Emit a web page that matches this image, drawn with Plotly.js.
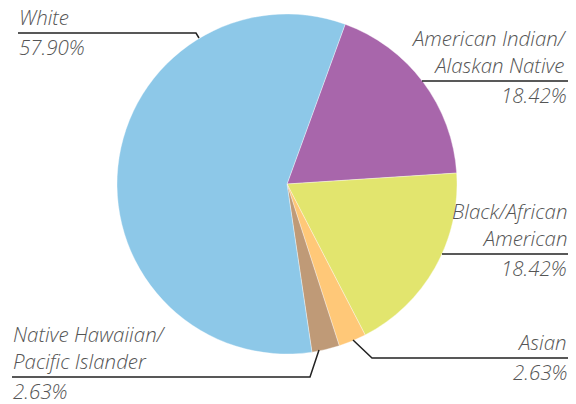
<!DOCTYPE html>
<html>
<head>
<meta charset="utf-8">
<script src="https://cdn.plot.ly/plotly-3.0.1.min.js"></script>
<style>html,body{margin:0;padding:0;background:#fff;}#chart{width:576px;height:404px;}</style>
</head>
<body>
<div id="chart"></div>
<script>
// Data
const categories = ["American Indian/<br>Alaskan Native", "Black/African<br>American", "Asian", "Native Hawaiian/<br>Pacific Islander", "White"];
const percents = [18.42, 18.42, 2.63, 2.63, 57.90];
const colors = ["#A866AB", "#E2E56E", "#FFC878", "#BF9A77", "#8DC8E8"];

// Label layout (pixel positions of leader lines and text anchors)
const W = 576, H = 404;
const labelLayout = [
  {pts: [[422, 81], [568, 81]], tx: 568, align: "right"},
  {pts: [[442, 254], [568, 254]], tx: 568, align: "right"},
  {pts: [[353, 340], [372, 358], [568, 358]], tx: 568, align: "right"},
  {pts: [[319, 350], [310, 377], [12, 377]], tx: 12, align: "left"},
  {pts: [[199, 38], [196, 33], [18, 33]], tx: 18, align: "left"}
];

const px = x => x / W;
const py = y => 1 - y / H;
const font = {family: "'Open Sans', Lato, 'Liberation Sans', sans-serif", size: 20.5, color: "#555555", style: "italic", weight: 300};

const shapes = [];
const annotations = [];
labelLayout.forEach((L, i) => {
  let d = "";
  L.pts.forEach((p, j) => { d += (j ? " L" : "M") + px(p[0]) + "," + py(p[1]); });
  shapes.push({type: "path", xref: "paper", yref: "paper", path: d, line: {color: "#222", width: 1.5}});
  const ly = L.pts[L.pts.length - 1][1];
  const anchor = L.align === "right" ? "right" : "left";
  annotations.push({xref: "paper", yref: "paper", x: px(L.tx), y: py(ly - 1), xanchor: anchor, yanchor: "bottom",
    text: categories[i], showarrow: false, align: L.align, font: font, borderpad: 0});
  annotations.push({xref: "paper", yref: "paper", x: px(L.tx), y: py(ly + 14), xanchor: anchor, yanchor: "middle",
    text: percents[i].toFixed(2) + "%", showarrow: false, align: L.align, font: font, borderpad: 0});
});

const trace = {
  type: "pie",
  labels: categories,
  values: percents,
  sort: false,
  direction: "clockwise",
  rotation: 20,
  textinfo: "none",
  hoverinfo: "skip",
  marker: {colors: colors, line: {color: "rgba(255,255,255,0.6)", width: 0.6}},
  domain: {x: [117 / W, 457 / W], y: [50 / H, 390 / H]},
  showlegend: false
};

Plotly.newPlot("chart", [trace], {
  width: W, height: H,
  margin: {l: 0, r: 0, t: 0, b: 0},
  paper_bgcolor: "#fff",
  showlegend: false,
  shapes: shapes,
  annotations: annotations
}, {staticPlot: true});
</script>
</body>
</html>
